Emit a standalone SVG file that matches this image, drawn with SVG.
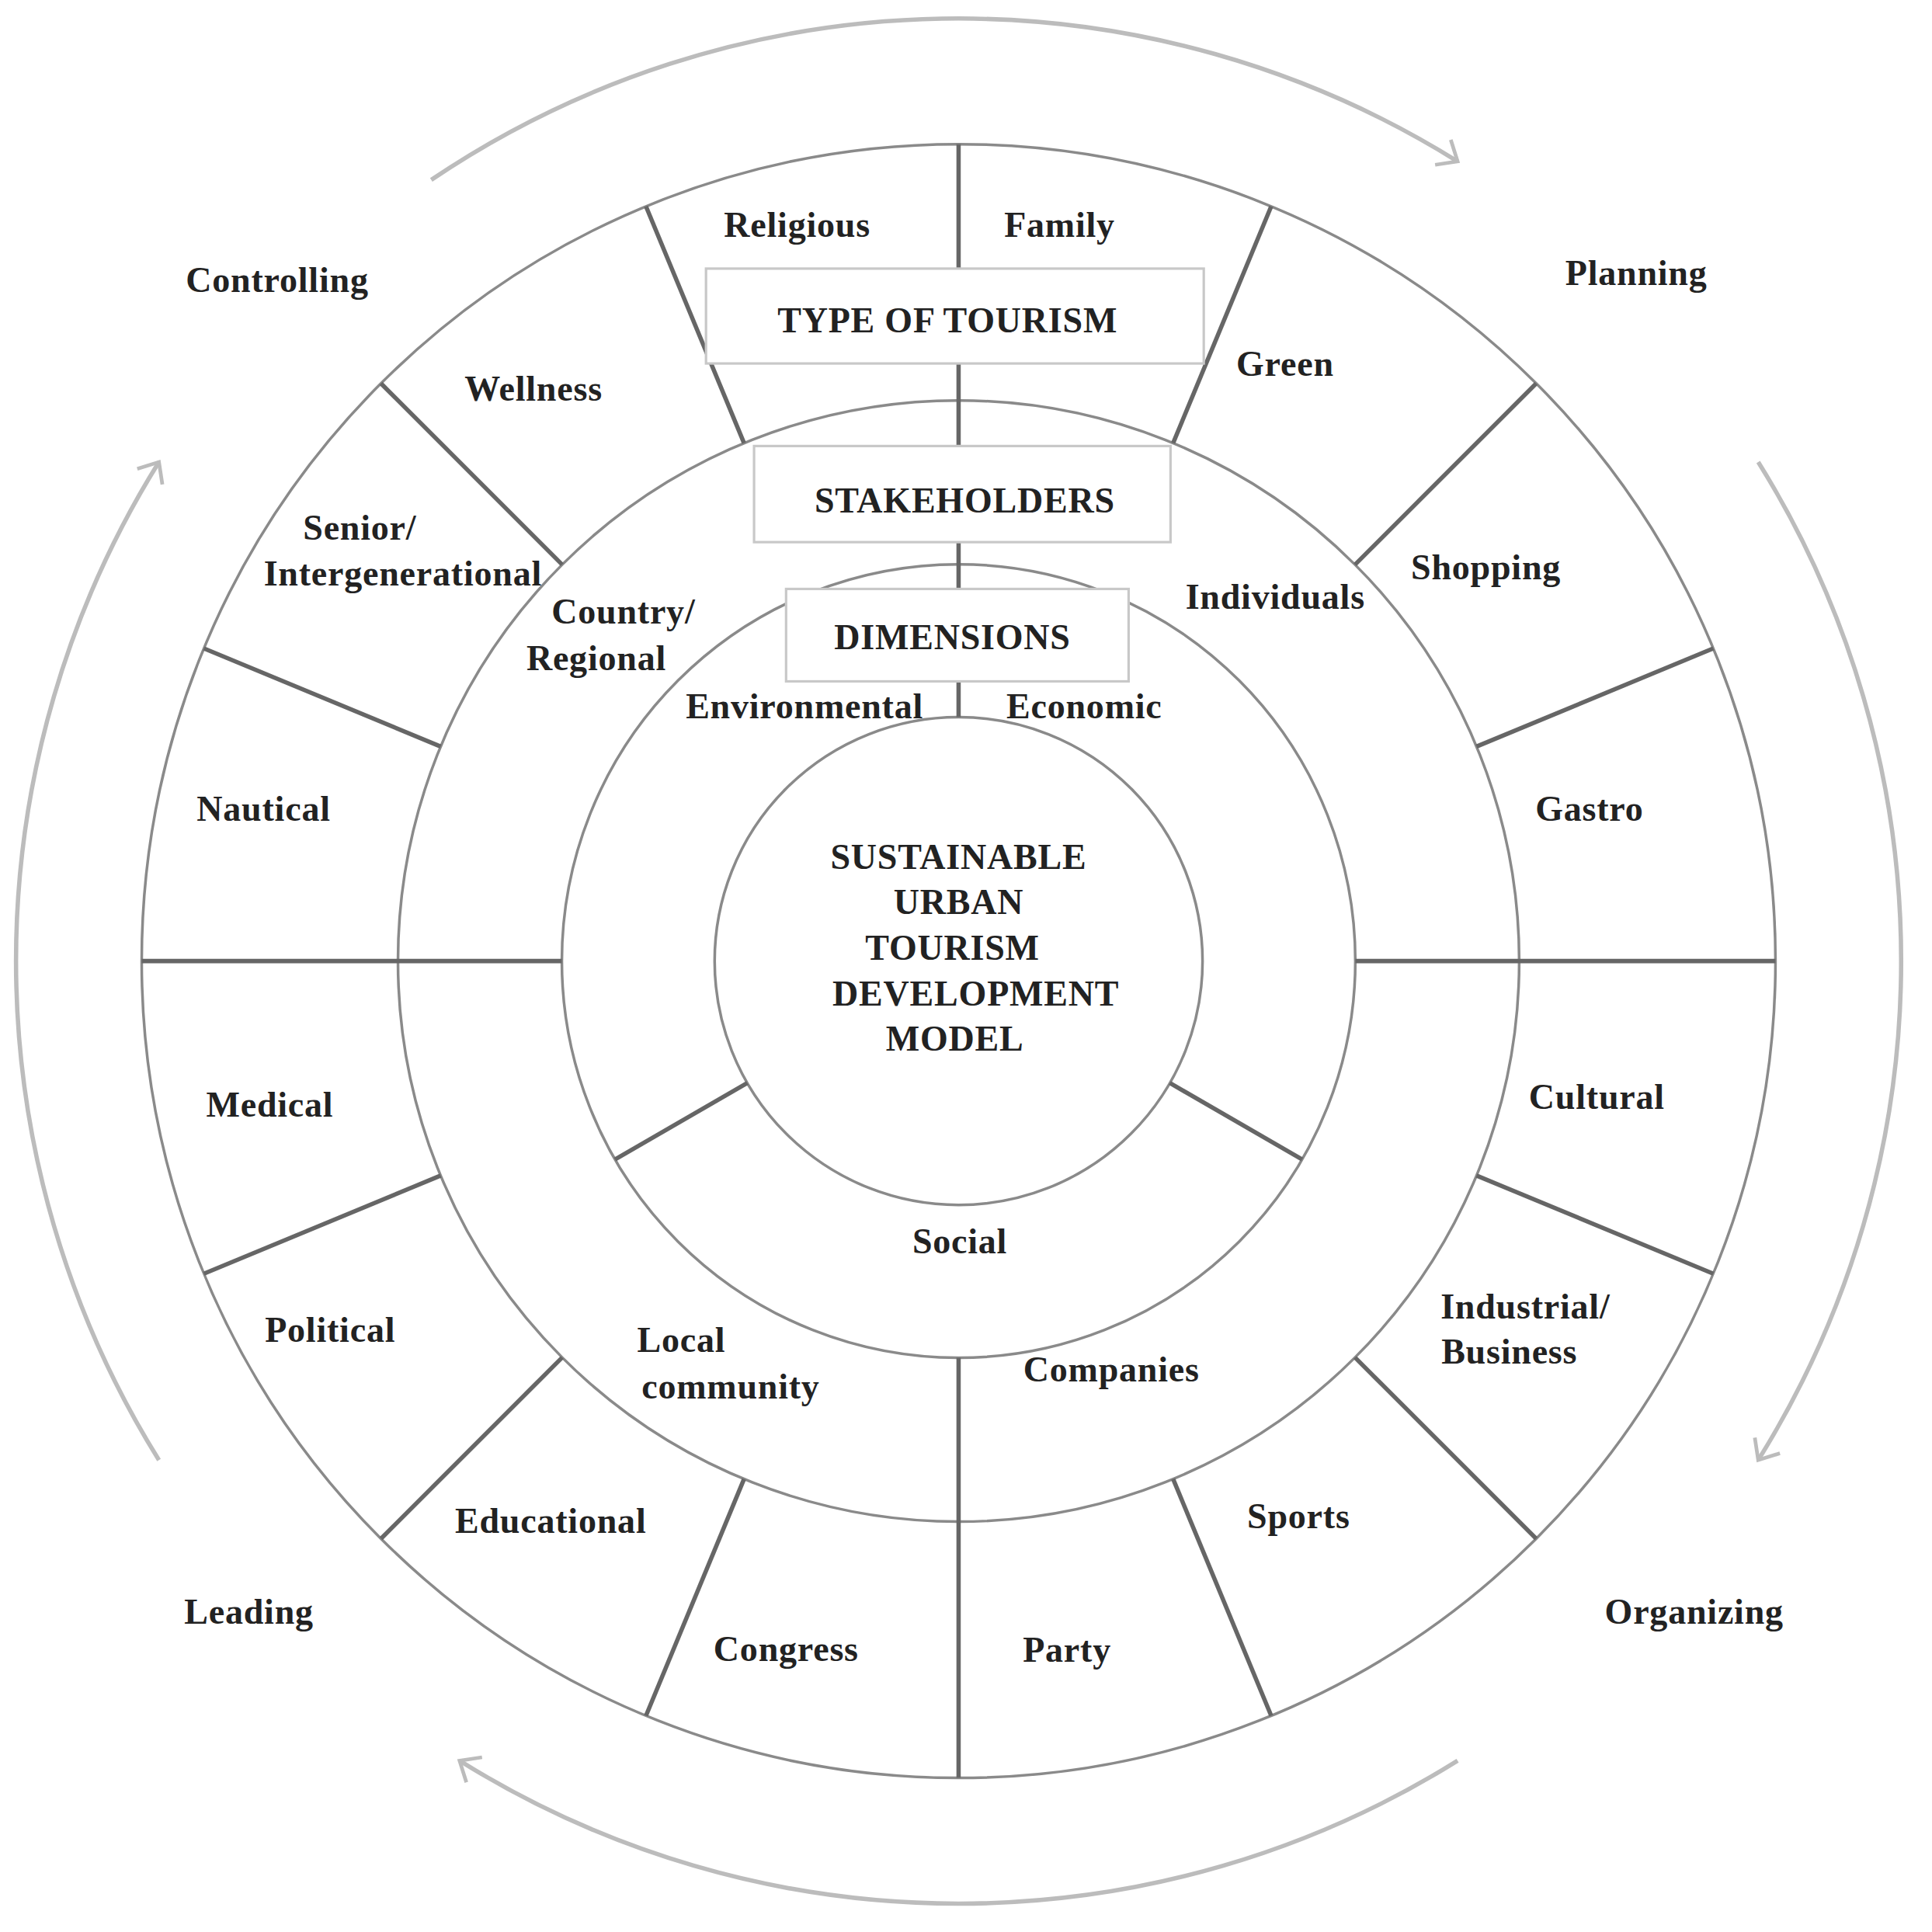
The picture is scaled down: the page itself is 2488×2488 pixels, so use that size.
<svg xmlns="http://www.w3.org/2000/svg" width="2488" height="2488" viewBox="0 0 2488 2488">
<style>
.c{fill:none;stroke:#8a8a8a;stroke-width:2.2}
.s{stroke:#666;stroke-width:3.5}
.a{fill:none;stroke:#bcbcbc;stroke-width:3.5}
.b{fill:#fff;stroke:#c8c8c8;stroke-width:2}
text{font-family:"Liberation Serif",serif;font-weight:bold;font-size:29px;fill:#222;text-anchor:middle;letter-spacing:0.5px}
</style>
<defs>
<marker id="ah" markerWidth="30" markerHeight="30" refX="16" refY="15" orient="auto" markerUnits="userSpaceOnUse">
<path d="M2,3 L16,15 L2,27" fill="none" stroke="#bcbcbc" stroke-width="3"/>
</marker>
</defs>
<rect width="2488" height="2488" fill="#fff"/>
<g transform="scale(1.5867)">
<g id="connectors">
<path class="a" d="M350,146 A765,765 0 0 1 1183,131" marker-end="url(#ah)"/>
<path class="a" d="M1427,375 A765,765 0 0 1 1427,1185" marker-end="url(#ah)"/>
<path class="a" d="M1183,1429 A765,765 0 0 1 373,1429" marker-end="url(#ah)"/>
<path class="a" d="M129,1185 A765,765 0 0 1 129,375" marker-end="url(#ah)"/>
</g>
<g id="rings">
<circle class="c" cx="778" cy="780" r="198"/>
<circle class="c" cx="778" cy="780" r="322"/>
<circle class="c" cx="778" cy="780" r="455"/>
<circle class="c" cx="778" cy="780" r="663"/>
<g transform="translate(778,780)">
<line class="s" x1="0" y1="-198" x2="0" y2="-663"/>
<line class="s" x1="0" y1="322" x2="0" y2="663"/>
<line class="s" x1="-322" y1="0" x2="-663" y2="0"/>
<line class="s" x1="322" y1="0" x2="663" y2="0"/>
<g class="s">
<line x1="0" y1="-198" x2="0" y2="-322" transform="rotate(120)"/>
<line x1="0" y1="-198" x2="0" y2="-322" transform="rotate(240)"/>
<line x1="0" y1="-455" x2="0" y2="-663" transform="rotate(22.5)"/>
<line x1="0" y1="-455" x2="0" y2="-663" transform="rotate(45)"/>
<line x1="0" y1="-455" x2="0" y2="-663" transform="rotate(67.5)"/>
<line x1="0" y1="-455" x2="0" y2="-663" transform="rotate(112.5)"/>
<line x1="0" y1="-455" x2="0" y2="-663" transform="rotate(135)"/>
<line x1="0" y1="-455" x2="0" y2="-663" transform="rotate(157.5)"/>
<line x1="0" y1="-455" x2="0" y2="-663" transform="rotate(202.5)"/>
<line x1="0" y1="-455" x2="0" y2="-663" transform="rotate(225)"/>
<line x1="0" y1="-455" x2="0" y2="-663" transform="rotate(247.5)"/>
<line x1="0" y1="-455" x2="0" y2="-663" transform="rotate(292.5)"/>
<line x1="0" y1="-455" x2="0" y2="-663" transform="rotate(315)"/>
<line x1="0" y1="-455" x2="0" y2="-663" transform="rotate(337.5)"/>
</g>
</g>
</g>
<g id="box-type"><rect class="b" x="573" y="218" width="404" height="77"/><text x="769" y="270">TYPE OF TOURISM</text></g>
<g id="box-stake"><rect class="b" x="612" y="362" width="338" height="78"/><text x="783" y="416">STAKEHOLDERS</text></g>
<g id="box-dim"><rect class="b" x="638" y="478" width="278" height="75"/><text x="773" y="527">DIMENSIONS</text></g>
<g id="center"><text x="778" y="705">SUSTAINABLE</text><text x="778" y="742">URBAN</text><text x="773" y="779">TOURISM</text><text x="792" y="816">DEVELOPMENT</text><text x="775" y="853">MODEL</text></g>
<g id="labels">
<text x="647" y="192">Religious</text><text x="860" y="192">Family</text>
<text x="1043" y="305">Green</text><text x="225" y="237">Controlling</text><text x="1328" y="231">Planning</text>
<text x="433" y="325">Wellness</text><text x="292" y="438">Senior/</text><text x="327" y="475">Intergenerational</text>
<text x="506" y="506">Country/</text><text x="484" y="544">Regional</text>
<text x="1035" y="494">Individuals</text><text x="1206" y="470">Shopping</text>
<text x="653" y="583">Environmental</text><text x="880" y="583">Economic</text>
<text x="214" y="666">Nautical</text><text x="1290" y="666">Gastro</text>
<text x="219" y="906">Medical</text><text x="1296" y="900">Cultural</text><text x="779" y="1017">Social</text>
<text x="268" y="1089">Political</text><text x="553" y="1097">Local</text><text x="593" y="1135">community</text>
<text x="902" y="1121">Companies</text><text x="1238" y="1070">Industrial/</text><text x="1225" y="1107">Business</text>
<text x="1054" y="1240">Sports</text><text x="447" y="1244">Educational</text>
<text x="202" y="1318">Leading</text><text x="1375" y="1318">Organizing</text>
<text x="638" y="1348">Congress</text><text x="866" y="1349">Party</text>
</g>
</g>
</svg>
